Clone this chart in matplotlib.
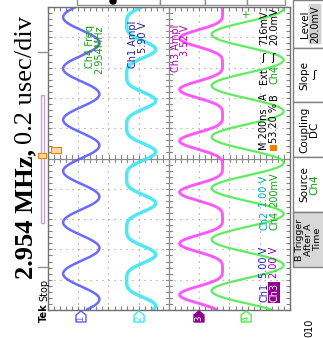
import numpy as np
import matplotlib.pyplot as plt
from matplotlib.patches import Rectangle, Polygon

# scope settings
freq_mhz = 2.954
ns_per_div = 200

# channel traces: centre, fundamental, 2nd harmonic (divisions), time of phase zero (ns)
ch_names = ['1', '2', '3', '4']
ch_colors = ['#5a5aff', '#3ee6f2', '#ff46ff', '#4cec4c']
ch_center = [-2.90, -1.04, 1.24, 2.60]
ch_fund = [0.60, 0.48, -0.71, -1.19]
ch_harm2 = [0.0, 0.12, -0.18, 0.0]
ch_phase_ns = [86, 43, 116, 142]
ch_ground = [-2.91, -0.99, 0.99, 2.55]
ch_lw = [1.8, 2.5, 2.1, 1.6]

W, H = 323, 338
fig = plt.figure(figsize=(W / 100, H / 100), dpi=100)
fig.patch.set_facecolor('white')

# graticule, 8 x 10 divisions, rotated so time runs upward
ax = fig.add_axes([48 / W, (H - 310) / H, 242 / W, 303 / H])
ax.set_xlim(-4, 4)
ax.set_ylim(-5 * ns_per_div, 5 * ns_per_div)
ax.set_xticks(np.arange(-4, 5, 1))
ax.set_yticks(np.arange(-5, 6, 1) * ns_per_div)
ax.set_xticks(np.arange(-4, 4.01, 0.2), minor=True)
ax.set_yticks(np.arange(-5, 5.01, 0.2) * ns_per_div, minor=True)
ax.tick_params(which='both', direction='in', length=3, width=0.8, color='#808080',
               top=True, right=True, labelbottom=False, labelleft=False)
ax.grid(True, which='major', color='#9a9a9a', lw=0.8, dashes=(1, 4.4))
for s in ax.spines.values():
    s.set_color('#707070')
    s.set_linewidth(1.0)

# centre cross with small ticks
ax.axvline(0, color='#8a8a8a', lw=0.9)
ax.axhline(0, color='#8a8a8a', lw=0.9)
for v in np.arange(-4, 4.01, 0.2):
    ax.plot([v, v], [-20, 20], color='#8a8a8a', lw=0.8)
for v in np.arange(-5, 5.01, 0.2) * ns_per_div:
    ax.plot([-0.1, 0.1], [v, v], color='#8a8a8a', lw=0.8)

t = np.linspace(-5 * ns_per_div, 5 * ns_per_div, 3001)
for c, a1, a2, ph, col, lw in zip(ch_center, ch_fund, ch_harm2, ch_phase_ns, ch_colors, ch_lw):
    th = 2 * np.pi * freq_mhz * 1e-3 * (t - ph)
    ax.plot(c + a1 * np.cos(th) + a2 * np.cos(2 * th), t, color=col, lw=lw, alpha=0.9,
            solid_capstyle='butt', clip_on=True)

# overlay in pixel coordinates for the screen furniture
ov = fig.add_axes([0, 0, 1, 1], facecolor='none')
ov.set_xlim(0, W)
ov.set_ylim(H, 0)
ov.axis('off')


def vtext(x, y, s, ha='left', **kw):
    kw.setdefault('size', 7)
    kw.setdefault('family', 'DejaVu Sans')
    return ov.text(x, y, s, rotation=90, rotation_mode='anchor', ha=ha, va='baseline', **kw)


def end_of(txt):
    fig.canvas.draw()
    bb = txt.get_window_extent()
    return ov.transData.inverted().transform((0, bb.y1))[1]


# big caption
t1 = vtext(32, 279, '2.954 MHz,', size=19, family='Liberation Serif', weight='bold')
vtext(32, end_of(t1) - 5, '0.2 usec/div', size=19, family='Liberation Serif')

# Tek Stop
t2 = vtext(47, 322, 'Tek', size=7, weight='bold')
vtext(47, end_of(t2) - 2, 'Stop', size=7)

# record bracket at left
ov.plot([38, 48], [52, 52], color='#909090', lw=1)
ov.plot([38, 48], [267, 267], color='#909090', lw=1)
ov.add_patch(Rectangle((40.5, 95), 3, 128, fill=False, ec='#c8a0e0', lw=1))
ov.add_patch(Rectangle((38, 152.5), 8, 5, fc='#ffd8a8', ec='#f08000', lw=0.8))
ov.add_patch(Rectangle((51, 147), 10, 6, fc='#ffd8a8', ec='#f08000', lw=0.8))

# top menu bits
for x0, x1 in [(77, 160), (160, 205), (205, 247), (247, 285)]:
    ov.add_patch(Rectangle((x0, -5), x1 - x0, 10, fc='white', ec='#909090', lw=1))
ov.add_patch(plt.Circle((113, 1), 3, color='black'))

# measurement readouts
vtext(93, 25, 'Ch4 Freq', ha='right', color='#10a010')
vtext(102, 25, '2.954MHz', ha='right', color='#10a010')
vtext(136, 21, 'Ch1 Ampl', ha='right', color='#20209a')
vtext(146, 22, '5.90 V', ha='right', color='#20209a')
vtext(179, 25, 'Ch3 Ampl', ha='right', color='#b000b0')
vtext(188, 25, '3.52 V', ha='right', color='#b000b0')

# settings readouts
vtext(267, 302, 'Ch1', color='#2020c8')
vtext(267, 278, '5.00 V', color='#2020c8')
vtext(267, 230, 'Ch2', color='#00a8c0')
vtext(267, 207, '1.00 V', color='#00a8c0')
vtext(267, 150, 'M 200ns', color='black')
vtext(267, 100, 'A', color='black')
vtext(267, 84, 'Ext', color='black')
ov.text(263, 58, 'ʃ', size=8, ha='center', va='center', color='black')
vtext(267, 45, '716mV', color='black')

vtext(277, 302, 'Ch3', color='white', bbox=dict(boxstyle='square,pad=0.1', fc='#900090', ec='none'))
vtext(277, 278, '2.00 V', color='#a000a0')
vtext(277, 230, 'Ch4', color='#10a010')
vtext(277, 207, '200mV', color='#10a010')
ov.add_patch(Rectangle((270, 145), 7, 6, fc='#f08000', ec='none'))
vtext(277, 143, '53.20 %', color='black')
vtext(277, 100, 'B', color='black')
vtext(277, 84, 'Ch4', color='#10a010')
ov.text(273, 58, 'ʃ', size=8, ha='center', va='center', color='black')
vtext(277, 45, '20.0mV', color='black')

# channel ground markers under the graticule
for g, name, col in zip(ch_ground, ch_names, ch_colors):
    px = ax.transData.transform((g, 0))[0]
    xg = ov.transData.inverted().transform((px, 0))[0]
    filled = name == '3'
    ec = '#900090' if filled else col
    pts = [(xg - 5, 322), (xg - 5, 315), (xg, 311), (xg + 5, 315), (xg + 5, 322)]
    ov.add_patch(Polygon(pts, closed=True, fc='#900090' if filled else 'white', ec=ec, lw=1))
    ov.text(xg, 318, name, size=6, rotation=90, ha='center', va='center',
            color='white' if filled else col)

# trigger level marker
ov.text(245, 15, '+', size=7, ha='center', va='center', color='#10a010')

# side menu
box_edges = [0, 48, 102, 157, 212, 267]
for i in range(5):
    ov.add_patch(Rectangle((293, box_edges[i]), 35, box_edges[i + 1] - box_edges[i],
                           fc='#d8d8d8' if i == 4 else 'white', ec='#808080', lw=1))
mid = [(box_edges[i] + box_edges[i + 1]) / 2 for i in range(5)]
ov.text(305, mid[0], 'Level', size=7.5, rotation=90, ha='center', va='center')
ov.text(315, mid[0], '20.0mV', size=7, rotation=90, ha='center', va='center',
        bbox=dict(boxstyle='round,pad=0.15', fc='#d0d0d0', ec='none'))
ov.text(304, mid[1], 'Slope', size=7.5, rotation=90, ha='center', va='center')
ov.text(314, mid[1], 'ʃ', size=8, ha='center', va='center')
ov.text(304, mid[2], 'Coupling', size=7.5, rotation=90, ha='center', va='center')
ov.text(314, mid[2], 'DC', size=7.5, rotation=90, ha='center', va='center')
ov.text(304, mid[3], 'Source', size=7.5, rotation=90, ha='center', va='center')
ov.text(314, mid[3], 'Ch4', size=7.5, rotation=90, ha='center', va='center', color='#10a010')
ov.text(308.5, mid[4], 'B Trigger\nAfter A\nTime', size=6.8, rotation=90, ha='center',
        va='center', multialignment='center', linespacing=0.95)
ov.text(309, 328, '010', size=7, rotation=90, ha='center', va='center')

fig.savefig('out.png', dpi=100)
